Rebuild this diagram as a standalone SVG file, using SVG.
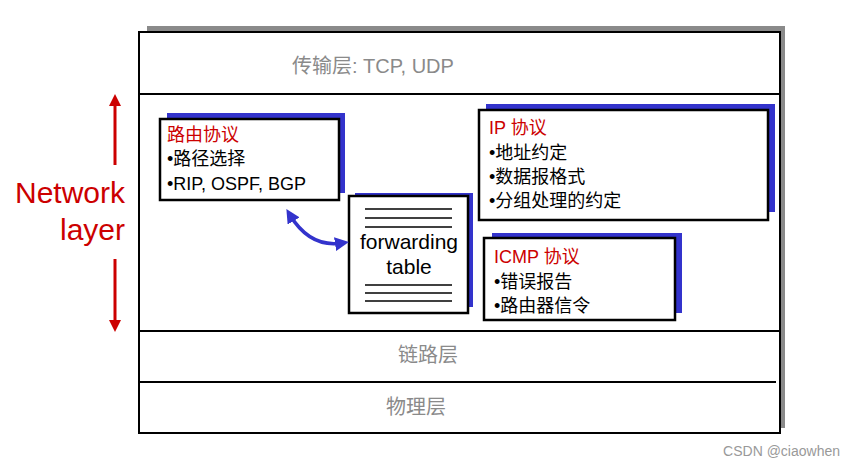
<svg xmlns="http://www.w3.org/2000/svg" width="856" height="466" viewBox="0 0 856 466">
<style>
.t{font-family:"Liberation Sans","Noto Sans CJK SC",sans-serif}
.g{fill:#8a8a8a;font-size:20px}
.r{fill:#cc0000;font-size:18px}
.k{fill:#000;font-size:18px}
.w{fill:#fff;stroke:#000;stroke-width:2.5}
.b{fill:#3333cc}
.l{stroke:#000;stroke-width:1.5}
</style>
<defs>
<marker id="ra" viewBox="0 0 10 10" refX="5" refY="5" markerWidth="4" markerHeight="4" orient="auto-start-reverse"><path d="M0,0L10,5L0,10z" fill="#cc0000"/></marker>
<marker id="ba" viewBox="0 0 10 10" refX="5" refY="5" markerWidth="4" markerHeight="4" orient="auto-start-reverse"><path d="M0,0L10,5L0,10z" fill="#3333cc"/></marker>
</defs>
<rect width="856" height="466" fill="#fff"/>
<rect x="147" y="26" width="638" height="402" fill="#8a8a8a"/>
<rect x="139" y="32" width="641" height="401" fill="#fff" stroke="#000" stroke-width="2"/>
<line x1="139" y1="94" x2="780" y2="94" stroke="#000" stroke-width="2"/>
<line x1="139" y1="331" x2="780" y2="331" stroke="#000" stroke-width="2"/>
<line x1="139" y1="382" x2="776" y2="382" stroke="#000" stroke-width="2"/>
<text class="t g" x="292" y="73">传输层: TCP, UDP</text>
<text class="t g" x="398" y="362">链路层</text>
<text class="t g" x="386" y="414">物理层</text>
<g id="netlabel">
<text class="t" x="125" y="203" text-anchor="end" fill="#cc0000" font-size="30">Network</text>
<text class="t" x="125" y="240" text-anchor="end" fill="#cc0000" font-size="30">layer</text>
</g>
<g id="routing"><rect class="b" x="167" y="113" width="178" height="80"/><rect class="w" x="160" y="119" width="179" height="81"/>
<text class="t r" x="167" y="141">路由协议</text><text class="t k" x="167" y="165">•路径选择</text><text class="t k" x="167" y="190">•RIP, OSPF, BGP</text></g>
<g id="fwd"><rect class="b" x="355" y="193" width="118" height="114"/><rect class="w" x="349" y="196" width="119" height="117"/>
<line class="l" x1="365" y1="209" x2="452" y2="209"/><line class="l" x1="365" y1="218" x2="452" y2="218"/><line class="l" x1="365" y1="227" x2="452" y2="227"/>
<line class="l" x1="365" y1="285" x2="452" y2="285"/><line class="l" x1="365" y1="293" x2="452" y2="293"/><line class="l" x1="365" y1="301" x2="452" y2="301"/>
<text class="t" x="409" y="249" text-anchor="middle" font-size="21">forwarding</text><text class="t" x="409" y="274" text-anchor="middle" font-size="21">table</text></g>
<g id="ip"><rect class="b" x="486" y="104" width="289" height="108"/><rect class="w" x="479" y="110" width="289" height="110"/>
<text class="t r" x="489" y="134">IP 协议</text><text class="t k" x="489" y="159">•地址约定</text><text class="t k" x="489" y="183">•数据报格式</text><text class="t k" x="489" y="207">•分组处理的约定</text></g>
<g id="icmp"><rect class="b" x="492" y="233" width="190" height="80"/><rect class="w" x="484" y="238" width="191" height="82"/>
<text class="t r" x="494" y="263">ICMP 协议</text><text class="t k" x="494" y="288">•错误报告</text><text class="t k" x="494" y="312">•路由器信令</text></g>
<g id="connectors">
<line x1="115" y1="100" x2="115" y2="165" stroke="#cc0000" stroke-width="3" marker-start="url(#ra)"/>
<line x1="115" y1="259" x2="115" y2="326" stroke="#cc0000" stroke-width="3" marker-end="url(#ra)"/>
<path d="M290,215 Q310,248 342,243" fill="none" stroke="#3333cc" stroke-width="3.5" marker-start="url(#ba)" marker-end="url(#ba)"/>
</g>
<text class="t" x="840" y="456" text-anchor="end" fill="#999" font-size="14">CSDN @ciaowhen</text>
</svg>
